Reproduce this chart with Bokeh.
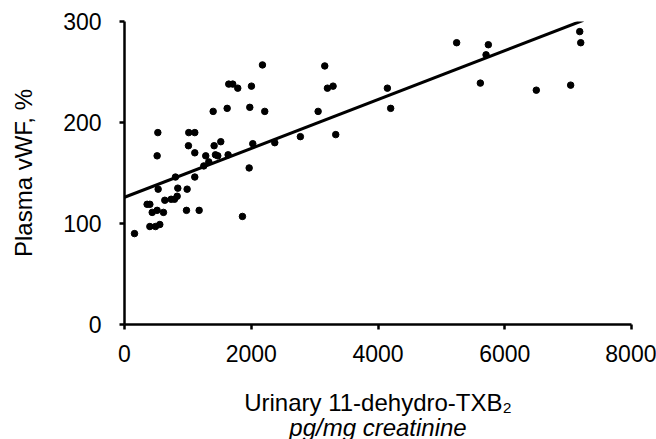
from bokeh.plotting import figure
from bokeh.models import Range1d, FixedTicker, LinearAxis
from bokeh.embed import file_html
from bokeh.resources import INLINE

# Urinary 11-dehydro-TXB2 (pg/mg creatinine) vs plasma vWF (%)
txb2 = [158, 357, 400, 437, 515, 615, 400, 489, 557, 531, 526, 515, 636, 736, 789,
        831, 804, 841, 978, 988, 1009, 1014, 1109, 1109, 1109, 1178, 1251, 1282,
        1330, 1414, 1435, 1472, 1519, 1399, 1620, 1645, 1708, 1787, 1635, 1967,
        1861, 1977, 2003, 2024, 2177, 2213, 2371, 2775, 3055, 3160, 3202, 3291,
        3333, 4148, 4200, 5241, 5615, 5705, 5741, 6498, 7040, 7183, 7199]
vwf = [90, 119, 119, 111, 113, 111, 97, 97, 99, 134, 190, 167, 123, 124, 124,
       127, 146, 135, 113, 134, 177, 190, 190, 170, 146, 113, 157, 167,
       161, 177, 168, 167, 181, 211, 214, 238, 238, 234, 168, 155,
       107, 215, 236, 179, 257, 211, 180, 186, 211, 256, 234, 236,
       188, 234, 214, 279, 239, 267, 277, 232, 237, 290, 279]

# regression line
line_intercept = 126
line_slope = 0.0242
line_x = [0, 7240]
line_y = [line_intercept + line_slope * x for x in line_x]

x_ticks = [0, 2000, 4000, 6000, 8000]
y_ticks = [0, 100, 200, 300]

FONT = "Liberation Sans"

p = figure(output_backend="svg", toolbar_location=None,
           frame_width=507, frame_height=303,
           min_border_left=124, min_border_right=25,
           min_border_top=21, min_border_bottom=112,
           x_range=Range1d(0, 8000), y_range=Range1d(0, 300),
           background_fill_color="white", border_fill_color="white")
p.outline_line_color = None
p.xgrid.visible = False
p.ygrid.visible = False

p.line(line_x, line_y, line_color="black", line_width=3)
p.scatter(txb2, vwf, size=6.5, marker="circle", fill_color="black", line_color="black")

for ax, ticks in ((p.xaxis[0], x_ticks), (p.yaxis[0], y_ticks)):
    ax.ticker = FixedTicker(ticks=ticks)
    ax.minor_tick_line_color = None
    ax.axis_line_width = 2.5
    ax.major_tick_line_width = 2.5
    ax.major_tick_in = 0
    ax.major_tick_out = 5
    ax.major_label_text_font = FONT
    ax.major_label_text_font_size = "23px"
    ax.major_label_text_color = "black"
    ax.axis_line_color = "black"
    ax.major_tick_line_color = "black"
    ax.axis_label_text_font = FONT
    ax.axis_label_text_font_size = "24px"
    ax.axis_label_text_font_style = "normal"
    ax.axis_label_text_color = "black"

p.xaxis.major_label_standoff = 15
p.yaxis.major_label_standoff = 18

p.yaxis.axis_label = "Plasma vWF, %"
p.yaxis.axis_label_standoff = 23

p.xaxis.axis_label = "Urinary 11-dehydro-TXB\u2082"
p.xaxis.axis_label_standoff = 24

unit_axis = LinearAxis(ticker=FixedTicker(ticks=[]), axis_line_color=None,
                       major_tick_line_color=None, minor_tick_line_color=None,
                       major_tick_out=0, major_tick_in=0,
                       major_label_text_font_size="0px",
                       axis_label="pg/mg creatinine", axis_label_text_font=FONT,
                       axis_label_text_font_size="24px",
                       axis_label_text_font_style="italic",
                       axis_label_text_color="black", axis_label_standoff=-5)
p.add_layout(unit_axis, "below")

open("out.html", "w").write(file_html(p, INLINE))
